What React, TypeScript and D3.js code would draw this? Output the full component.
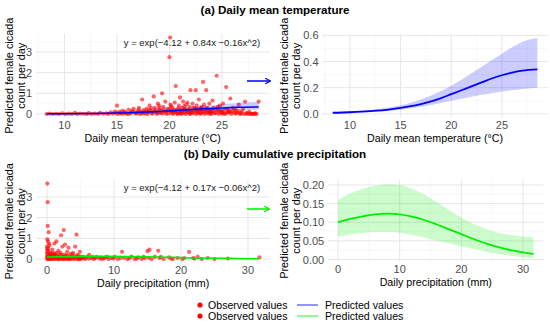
import React, { useRef, useEffect } from 'react';
import * as d3 from 'd3';

// observed daily counts vs mean temperature (°C)
const tempObs: [number, number][] = [
  [8.3, 0], [8.6, 0.02], [8.9, 0], [9.2, 0.01], [9.5, 0], [9.8, 0.03], [10.1, 0], [10.4, 0.02], [10.7, 0],
  [11.0, 0.05], [11.2, 0], [11.5, 0.02], [11.8, 0.01], [12.1, 0], [12.3, 0.04], [12.6, 0], [12.9, 0.02],
  [13.2, 0], [13.4, 0.06], [13.7, 0.01], [14.0, 0.03], [14.2, 0], [14.4, 0.08], [14.6, 0.02], [14.8, 0.12],
  [15.0, 0.4], [15.1, 0], [15.3, 0.05], [15.5, 0.15], [15.6, 0.02], [15.8, 0.08], [16.0, 0], [16.1, 0.2],
  [16.3, 0.05], [16.5, 0.1], [16.6, 0.25], [16.8, 0.02], [17.0, 0.12], [17.1, 0.3], [17.3, 0.05], [17.4, 0.7],
  [17.5, 0.18], [17.7, 0.02], [17.8, 0.25], [18.0, 0.08], [18.1, 0.4], [18.2, 0.15], [18.4, 0.02], [18.5, 0.85],
  [18.6, 0.3], [18.7, 0.1], [18.9, 0.5], [19.0, 0.2], [19.1, 0.05], [19.3, 1.0], [19.4, 0.35], [19.5, 0.12],
  [19.6, 0.6], [19.8, 0.25], [19.9, 0.03], [20.0, 2.75], [20.07, 3.7], [20.1, 0.45], [20.2, 0.15], [20.3, 0.3],
  [20.4, 0.08], [20.5, 0.55], [20.6, 1.35], [20.7, 0.2], [20.8, 0.02], [20.9, 0.4], [21.0, 0.8], [21.1, 0.12],
  [21.2, 0.3], [21.3, 0.6], [21.4, 0.05], [21.5, 0.22], [21.6, 0.45], [21.7, 0.55], [21.8, 0.1], [21.9, 0.35],
  [22.0, 1.15], [22.1, 0.18], [22.2, 0.5], [22.3, 0.03], [22.4, 0.28], [22.5, 1.15], [22.6, 0.4], [22.7, 0.12],
  [22.8, 0.7], [22.9, 0.25], [23.0, 0.05], [23.1, 0.35], [23.2, 1.55], [23.3, 0.45], [23.4, 0.15], [23.5, 1.15],
  [23.6, 0.3], [23.7, 0.02], [23.8, 0.5], [23.9, 0.2], [24.0, 0.1], [24.1, 0.65], [24.2, 0.3], [24.4, 0.05],
  [24.5, 1.85], [24.6, 0.2], [24.8, 0.4], [24.9, 0.1], [25.1, 0.5], [25.2, 0.02], [25.4, 1.3], [25.5, 0.25],
  [25.7, 0.08], [25.8, 0.75], [26.0, 0.3], [26.2, 0.05], [26.4, 0.15], [26.6, 0.45], [26.8, 0.02], [27.0, 0.2],
  [27.2, 0.6], [27.4, 0.05], [27.6, 0.1], [27.8, 0.02], [28.0, 0], [28.2, 0.03], [28.5, 0.6],
  [16.2, 0.01], [16.9, 0.04], [17.2, 0], [17.6, 0.06], [17.9, 0], [18.3, 0.04], [18.8, 0], [19.2, 0.07],
  [19.7, 0], [20.15, 0.05], [20.35, 0], [20.55, 0.09], [20.75, 0], [20.95, 0.06], [21.15, 0], [21.35, 0.15],
  [21.55, 0], [21.75, 0.08], [21.95, 0], [22.15, 0.06], [22.35, 0.14], [22.55, 0], [22.75, 0.05], [22.95, 0],
  [23.15, 0.09], [23.35, 0], [23.55, 0.06], [23.75, 0.12], [23.95, 0], [24.3, 0.04], [24.7, 0], [25.0, 0.06],
  [25.3, 0], [25.6, 0.1], [25.9, 0], [26.3, 0.02], [26.7, 0], [27.1, 0], [27.5, 0], [27.9, 0.01], [28.3, 0],
];

// denser mass of low counts in the warm range
const tempObsLow: [number, number][] = [
  [14.9, 0.05], [15.2, 0.1], [15.4, 0.02], [15.7, 0.12], [15.9, 0.04], [16.4, 0.16], [16.7, 0.08], [17.05, 0.2],
  [17.25, 0.1], [17.45, 0.03], [17.65, 0.14], [17.85, 0.1], [18.05, 0.2], [18.25, 0.28], [18.45, 0.12],
  [18.65, 0.2], [18.85, 0.06], [19.05, 0.28], [19.25, 0.16], [19.45, 0.22], [19.65, 0.1], [19.85, 0.18],
  [20.05, 0.25], [20.25, 0.12], [20.45, 0.2], [20.65, 0.1], [20.85, 0.28], [21.05, 0.18], [21.25, 0.08],
  [21.45, 0.25], [21.65, 0.15], [21.85, 0.22], [22.05, 0.1], [22.25, 0.3], [22.45, 0.2], [22.65, 0.08],
  [22.85, 0.16], [23.05, 0.22], [23.25, 0.1], [23.45, 0.26], [23.65, 0.16], [23.85, 0.08], [24.05, 0.2],
  [24.25, 0.14], [24.45, 0.24], [24.65, 0.1], [24.85, 0.18], [25.05, 0.12], [25.25, 0.2], [25.45, 0.06],
  [25.65, 0.16], [25.85, 0.1], [26.05, 0.14], [26.25, 0.22], [26.45, 0.05], [26.65, 0.12], [26.85, 0.08],
  [27.3, 0.02], [27.7, 0], [28.1, 0.02], [19.35, 0.02], [20.15, 0.38], [21.05, 0.02], [22.0, 0.02], [23.0, 0.3],
  [24.0, 0.02], [25.0, 0.02], [19.0, 0.4], [21.4, 0.38], [22.6, 0.25], [24.6, 0.35],
];

// observed daily counts vs cumulative precipitation (mm)
const precipObs: [number, number][] = [
  [0.05, 3.65], [0.1, 2.75], [0.1, 1.6], [0.25, 1.3], [0.05, 0.95], [0.15, 0.85], [0.3, 0.75], [0, 0.6],
  [0.2, 0.5], [0.35, 0.65], [0.1, 0.4], [0.4, 0.3], [0, 0.25], [0.2, 0.2], [0.5, 0.15], [0.1, 0.1],
  [0.3, 0.05], [0, 0], [0.6, 0.02], [0.8, 0.45], [0.9, 0.1], [1.0, 0], [1.1, 0.75], [1.2, 0.25], [1.3, 0.05],
  [1.4, 0.85], [1.5, 0.15], [1.6, 0.02], [1.7, 0.4], [1.8, 0], [2.0, 0.3], [2.1, 1.15], [2.2, 0.08],
  [2.3, 0.6], [2.4, 0], [2.5, 1.4], [2.6, 0.2], [2.7, 0.7], [2.8, 0.05], [3.0, 0.35], [3.1, 0], [3.2, 0.55],
  [3.4, 0.12], [3.5, 0.25], [3.7, 0], [3.9, 0.3], [4.0, 0.08], [4.2, 0.6], [4.4, 1.18], [4.5, 0.15], [4.7, 0],
  [4.9, 0.35], [5.1, 0.05], [5.4, 0.1], [5.7, 0], [6.0, 0.12], [6.3, 0.2], [6.6, 0.04], [7.0, 0], [7.4, 0.1],
  [7.8, 0.02], [8.2, 0], [8.7, 0.08], [9.2, 0], [9.6, 0.05], [10.1, 0.1], [10.6, 0], [11.2, 0.35], [11.5, 0.05],
  [12.0, 0], [12.6, 0.12], [13.1, 0], [13.6, 0.08], [14.1, 0], [14.6, 0.05], [15.0, 0.38], [15.3, 0.45],
  [15.6, 0], [16.1, 0.1], [16.6, 0.4], [16.8, 0.05], [17.4, 0], [18.2, 0.08], [18.8, 0], [19.5, 0.05],
  [20.2, 0], [21.2, 0.35], [21.8, 0.05], [22.5, 0.1], [23.1, 0], [24.0, 0.05], [25.0, 0], [27.0, 0.02], [31.7, 0.08],
  [0.15, 0.02], [0.45, 0], [0.55, 0.2], [0.7, 0.1], [0.75, 0], [0.85, 0.3], [0.95, 0.05], [1.05, 0.18],
  [1.25, 0], [1.35, 0.1], [1.55, 0.06], [1.65, 0], [1.85, 0.2], [1.95, 0.04], [2.15, 0], [2.35, 0.12],
  [2.45, 0.03], [2.65, 0], [2.85, 0.15], [2.95, 0.02], [3.3, 0], [3.6, 0.05], [3.8, 0.1], [4.1, 0], [4.3, 0.04],
  [4.6, 0], [4.8, 0.08], [5.0, 0], [5.2, 0.02], [0, 0.12], [0.05, 0.35], [0, 0.5], [0.25, 0], [0.4, 0.1],
  [0.6, 0.28], [1.0, 0.22], [1.4, 0.3], [1.8, 0.12], [2.2, 0.22], [2.6, 0.1], [3.0, 0.18], [3.4, 0.02],
  [3.8, 0.22], [4.2, 0.12], [4.6, 0.2], [5.0, 0.12], [5.6, 0.06], [6.2, 0.02], [6.8, 0.1], [7.2, 0.05],
  [8.0, 0.08], [8.5, 0.02], [9.0, 0.1], [9.9, 0.02], [11.0, 0.06], [12.3, 0.04], [13.4, 0.02], [14.4, 0.1],
  [15.2, 0.06], [17.0, 0.1], [18.5, 0.02], [20.5, 0.05], [22.0, 0.02],
];

// predicted curves with confidence band
const tempX = [8.3, 10, 12, 14, 15, 16, 17, 18, 19, 20, 21, 22, 23, 24, 25, 26, 27, 28.5];
const tempFit = [0.008, 0.012, 0.02, 0.034, 0.045, 0.058, 0.075, 0.095, 0.12, 0.15, 0.18, 0.21, 0.24, 0.27, 0.295, 0.315, 0.33, 0.34];
const tempLo = [0.004, 0.007, 0.013, 0.024, 0.032, 0.042, 0.054, 0.068, 0.083, 0.1, 0.115, 0.13, 0.145, 0.158, 0.17, 0.18, 0.19, 0.2];
const tempHi = [0.014, 0.02, 0.03, 0.05, 0.065, 0.085, 0.11, 0.14, 0.175, 0.215, 0.26, 0.31, 0.36, 0.41, 0.46, 0.51, 0.55, 0.58];

const precX = [0, 2, 4, 6, 8, 10, 12, 14, 16, 18, 20, 22, 24, 26, 28, 30, 31.7];
const precFit = [0.1, 0.109, 0.116, 0.121, 0.123, 0.121, 0.115, 0.106, 0.094, 0.081, 0.068, 0.055, 0.043, 0.033, 0.025, 0.019, 0.015];
const precLo = [0.062, 0.067, 0.071, 0.073, 0.074, 0.072, 0.066, 0.059, 0.051, 0.043, 0.035, 0.028, 0.021, 0.015, 0.01, 0.006, 0.004];
const precHi = [0.16, 0.177, 0.19, 0.198, 0.202, 0.2, 0.19, 0.174, 0.154, 0.133, 0.112, 0.095, 0.082, 0.072, 0.066, 0.062, 0.06];

const tempTicks = [10, 15, 20, 25];
const precTicks = [0, 10, 20, 30];
const countTicks = [0, 1, 2, 3];
const tempPredTicks = [0, 0.2, 0.4, 0.6];
const precPredTicks = [0, 0.05, 0.1, 0.15, 0.2];

const FONT = '"Liberation Sans", Arial, sans-serif';
const BLUE = '#0000ff';
const GREEN = '#00ee00';

const App = () => {
  const ref = useRef<SVGSVGElement>(null);

  useEffect(() => {
    const svg = d3.select(ref.current);
    svg.selectAll('*').remove();
    svg.style('font-family', FONT);

    const defs = svg.append('defs');
    [['arrBlue', BLUE], ['arrGreen', GREEN]].forEach(([id, c]) => {
      defs.append('marker').attr('id', id).attr('viewBox', '0 0 10 10').attr('refX', 9).attr('refY', 5)
        .attr('markerWidth', 4).attr('markerHeight', 4).attr('orient', 'auto')
        .append('path').attr('d', 'M0,0L10,5L0,10').attr('fill', 'none').attr('stroke', c).attr('stroke-width', 2);
    });

    let clipN = 0;
    const panel = (opts: any) => {
      const { x, y, xTicks, yTicks, xMinor, yMinor, xTitle, fmt, titleX } = opts;
      const [x0, x1] = x.range();
      const [y0, y1] = y.range();
      const g = svg.append('g');
      const id = 'clip' + (clipN++);
      defs.append('clipPath').attr('id', id).append('rect')
        .attr('x', x0).attr('y', y1).attr('width', x1 - x0).attr('height', y0 - y1);

      const grid = g.append('g');
      xMinor.forEach((v: number) => grid.append('line').attr('x1', x(v)).attr('x2', x(v)).attr('y1', y0).attr('y2', y1)
        .attr('stroke', '#f3f3f3').attr('stroke-width', 0.6));
      yMinor.forEach((v: number) => grid.append('line').attr('y1', y(v)).attr('y2', y(v)).attr('x1', x0).attr('x2', x1)
        .attr('stroke', '#f3f3f3').attr('stroke-width', 0.6));
      xTicks.forEach((v: number) => grid.append('line').attr('x1', x(v)).attr('x2', x(v)).attr('y1', y0).attr('y2', y1)
        .attr('stroke', '#e6e6e6').attr('stroke-width', 1));
      yTicks.forEach((v: number) => grid.append('line').attr('y1', y(v)).attr('y2', y(v)).attr('x1', x0).attr('x2', x1)
        .attr('stroke', '#e6e6e6').attr('stroke-width', 1));

      g.append('g').selectAll('text').data(xTicks).join('text')
        .attr('x', (d: number) => x(d)).attr('y', y0 + 7).attr('text-anchor', 'middle')
        .attr('dominant-baseline', 'central').attr('font-size', 11).attr('fill', '#4d4d4d').text((d: number) => String(d));
      g.append('g').selectAll('text').data(yTicks).join('text')
        .attr('x', x0 - 4).attr('y', (d: number) => y(d)).attr('text-anchor', 'end')
        .attr('dominant-baseline', 'central').attr('font-size', 11).attr('fill', '#4d4d4d').text(fmt);

      g.append('text').attr('x', (x0 + x1) / 2).attr('y', y0 + 20).attr('text-anchor', 'middle')
        .attr('dominant-baseline', 'central').attr('font-size', 10.7).attr('fill', '#000').text(xTitle);

      const yc = (y0 + y1) / 2;
      ['Predicted female cicada', 'count per day'].forEach((t, i) => {
        g.append('text').attr('transform', `translate(${titleX + i * 11.5},${yc}) rotate(-90)`)
          .attr('text-anchor', 'middle').attr('dominant-baseline', 'central')
          .attr('font-size', 10.9).attr('fill', '#000').text(t);
      });

      return g.append('g').attr('clip-path', `url(#${id})`);
    };

    const band = (g: any, x: any, y: any, xs: number[], lo: number[], hi: number[], fit: number[], col: string, lw: number) => {
      const idx = d3.range(xs.length);
      g.append('path').datum(idx)
        .attr('d', d3.area<number>().x(i => x(xs[i])).y0(i => y(lo[i])).y1(i => y(hi[i])).curve(d3.curveMonotoneX))
        .attr('fill', col).attr('fill-opacity', 0.2);
      g.append('path').datum(idx)
        .attr('d', d3.line<number>().x(i => x(xs[i])).y(i => y(fit[i])).curve(d3.curveMonotoneX))
        .attr('fill', 'none').attr('stroke', col).attr('stroke-width', lw);
    };

    const dots = (g: any, x: any, y: any, pts: [number, number][]) => {
      g.append('g').selectAll('circle').data(pts).join('circle')
        .attr('cx', (d: [number, number]) => x(d[0])).attr('cy', (d: [number, number]) => y(d[1]))
        .attr('r', 2.1).attr('fill', 'red').attr('fill-opacity', 0.6);
    };

    const intFmt = (d: number) => String(d);

    // (a) temperature, observed
    const xTL = d3.scaleLinear().domain([7.29, 29.51]).range([36, 269.3]);
    const yTL = d3.scaleLinear().domain([-0.185, 3.885]).range([117.8, 33.7]);
    const gTL = panel({ x: xTL, y: yTL, xTicks: tempTicks, yTicks: countTicks, xMinor: [7.5, 12.5, 17.5, 22.5, 27.5],
      yMinor: [0.5, 1.5, 2.5, 3.5], xTitle: 'Daily mean temperature (°C)', fmt: intFmt, titleX: 9 });
    dots(gTL, xTL, yTL, tempObs);
    dots(gTL, xTL, yTL, tempObsLow);
    band(gTL, xTL, yTL, tempX, tempLo, tempHi, tempFit, BLUE, 1.5);

    // (a) temperature, predicted
    const xTR = d3.scaleLinear().domain([7.29, 29.51]).range([322.5, 547.6]);
    const yTR = d3.scaleLinear().domain([-0.029, 0.609]).range([117.6, 34.2]);
    const gTR = panel({ x: xTR, y: yTR, xTicks: tempTicks, yTicks: tempPredTicks, xMinor: [7.5, 12.5, 17.5, 22.5, 27.5],
      yMinor: [0.1, 0.3, 0.5], xTitle: 'Daily mean temperature (°C)', fmt: (d: number) => d.toFixed(1), titleX: 284 });
    band(gTR, xTR, yTR, tempX, tempLo, tempHi, tempFit, BLUE, 1.8);

    // (b) precipitation, observed
    const xBL = d3.scaleLinear().domain([-1.585, 33.285]).range([36.4, 270]);
    const yBL = d3.scaleLinear().domain([-0.1825, 3.8325]).range([262.8, 179.8]);
    const gBL = panel({ x: xBL, y: yBL, xTicks: precTicks, yTicks: countTicks, xMinor: [5, 15, 25],
      yMinor: [0.5, 1.5, 2.5, 3.5], xTitle: 'Daily precipitation (mm)', fmt: intFmt, titleX: 9 });
    dots(gBL, xBL, yBL, precipObs);
    band(gBL, xBL, yBL, precX, precLo, precHi, precFit, GREEN, 1.5);

    // (b) precipitation, predicted
    const xBR = d3.scaleLinear().domain([-1.585, 33.285]).range([328.2, 543.3]);
    const yBR = d3.scaleLinear().domain([-0.0059, 0.2139]).range([261.7, 179.8]);
    const gBR = panel({ x: xBR, y: yBR, xTicks: precTicks, yTicks: precPredTicks, xMinor: [5, 15, 25],
      yMinor: [0.025, 0.075, 0.125, 0.175], xTitle: 'Daily precipitation (mm)', fmt: (d: number) => d.toFixed(2), titleX: 284 });
    band(gBR, xBR, yBR, precX, precLo, precHi, precFit, GREEN, 1.8);

    // equations
    svg.append('text').attr('x', 192).attr('y', 42).attr('text-anchor', 'middle').attr('dominant-baseline', 'central')
      .attr('font-size', 9.5).attr('fill', '#1a1a1a').text('y = exp(\u22124.12 + 0.84x \u22120.16x^2)');
    svg.append('text').attr('x', 192).attr('y', 187).attr('text-anchor', 'middle').attr('dominant-baseline', 'central')
      .attr('font-size', 9.5).attr('fill', '#1a1a1a').text('y = exp(\u22124.12 + 0.17x \u22120.06x^2)');

    // arrows
    svg.append('line').attr('x1', 247).attr('x2', 270).attr('y1', 81).attr('y2', 81)
      .attr('stroke', BLUE).attr('stroke-width', 1.5).attr('marker-end', 'url(#arrBlue)');
    svg.append('line').attr('x1', 247).attr('x2', 269).attr('y1', 209).attr('y2', 209)
      .attr('stroke', GREEN).attr('stroke-width', 1.5).attr('marker-end', 'url(#arrGreen)');

    // titles
    svg.append('text').attr('x', 275).attr('y', 9).attr('text-anchor', 'middle').attr('dominant-baseline', 'central')
      .attr('font-size', 11.6).attr('font-weight', 'bold').text('(a) Daily mean temperature');
    svg.append('text').attr('x', 275).attr('y', 153).attr('text-anchor', 'middle').attr('dominant-baseline', 'central')
      .attr('font-size', 11.6).attr('font-weight', 'bold').text('(b) Daily cumulative precipitation');

    // legend
    const leg = svg.append('g');
    [[305, BLUE], [316, GREEN]].forEach(([yy, c]) => {
      leg.append('circle').attr('cx', 200).attr('cy', yy).attr('r', 2.6).attr('fill', 'red');
      leg.append('text').attr('x', 208).attr('y', yy).attr('dominant-baseline', 'central').attr('font-size', 10.6).text('Observed values');
      leg.append('line').attr('x1', 297).attr('x2', 318).attr('y1', yy).attr('y2', yy).attr('stroke', c as string)
        .attr('stroke-width', 1.2).attr('stroke-opacity', 0.7);
      leg.append('text').attr('x', 325).attr('y', yy).attr('dominant-baseline', 'central').attr('font-size', 10.6).text('Predicted values');
    });
  }, []);

  return (
    <svg ref={ref} width={550} height={322} style={{ position: 'absolute', left: 0, top: 0, background: '#fff' }}></svg>
  );
};

export default App;
